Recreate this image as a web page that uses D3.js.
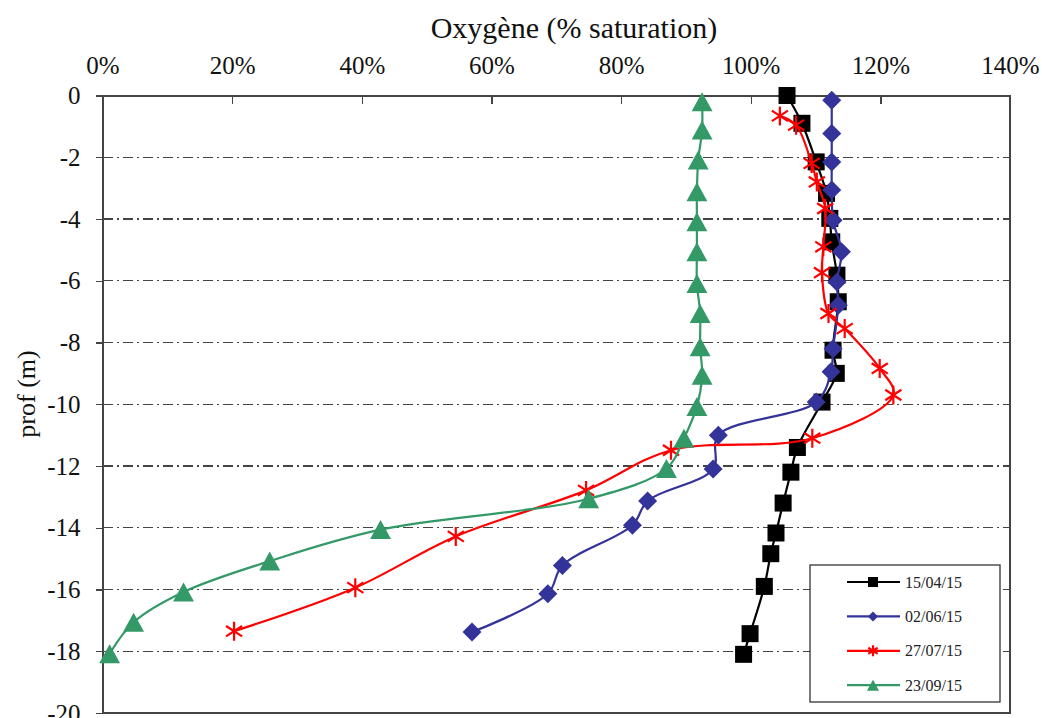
<!DOCTYPE html>
<meta charset="utf-8">
<head>
<style>
body { margin: 0; background: #fff; }
svg { font-family: "Liberation Serif", "DejaVu Serif", serif; }
.axis path, .axis line { fill: none; stroke: #444; stroke-width: 1.3; shape-rendering: crispEdges; }
.axis text { font-size: 25px; fill: #111; font-family: "Liberation Serif", serif; }
.grid { stroke: #444; stroke-width: 1.3; stroke-dasharray: 10,4,2,4; shape-rendering: crispEdges; }
</style>
</head>
<body>
<script src="https://d3js.org/d3.v7.min.js"></script>
<script>

// tick labels
var xTicks = [0, 20, 40, 60, 80, 100, 120, 140];
var yTicks = [0, -2, -4, -6, -8, -10, -12, -14, -16, -18, -20];

// series names
var dates = ["15/04/15", "02/06/15", "27/07/15", "23/09/15"];

// 15/04/15
var depth1 = [0, -0.9, -2.15, -3.17, -3.98, -4.74, -5.82, -6.68, -8.25, -9.0, -9.93, -11.4, -12.2, -13.2, -14.17, -14.84, -15.9, -17.43, -18.1];
var oxy1 = [105.6, 107.9, 110.1, 111.7, 112.2, 112.5, 113.3, 113.5, 112.7, 113.2, 111.0, 107.2, 106.2, 105.0, 103.9, 103.1, 102.1, 99.9, 98.9];

// 02/06/15
var depth2 = [-0.15, -1.23, -2.15, -3.06, -4.04, -5.06, -6.04, -6.79, -8.2, -8.95, -9.93, -11.0, -12.1, -13.13, -13.92, -15.22, -16.14, -17.38];
var oxy2 = [112.5, 112.5, 112.5, 112.5, 112.7, 114.0, 113.3, 113.5, 112.7, 112.4, 110.1, 95.0, 94.2, 84.1, 81.75, 70.95, 68.7, 57.0];

// 27/07/15
var depth3 = [-0.66, -0.96, -2.2, -2.8, -3.66, -4.9, -5.74, -7.06, -7.55, -8.84, -9.7, -11.1, -11.49, -12.79, -14.28, -15.94, -17.35];
var oxy3 = [104.5, 107.0, 109.4, 110.2, 111.5, 111.2, 111.0, 112.0, 114.5, 119.9, 122.0, 109.5, 87.7, 74.6, 54.5, 39.0, 20.3];

// 23/09/15
var depth4 = [-0.2, -1.12, -2.09, -3.12, -4.09, -5.06, -6.09, -7.06, -8.14, -9.06, -10.07, -11.1, -12.08, -13.06, -14.06, -15.08, -16.08, -17.06, -18.08];
var oxy4 = [92.5, 92.5, 91.9, 91.7, 91.7, 91.7, 91.7, 92.2, 92.2, 92.5, 91.7, 89.7, 87.0, 75.0, 42.9, 25.8, 12.5, 4.8, 1.1];

var colors = ["#000000", "#333399", "#ff0000", "#339966"];
var symbols = ["square", "diamond", "star", "triangle"];

var series = [
  {name: dates[0], depth: depth1, oxy: oxy1},
  {name: dates[1], depth: depth2, oxy: oxy2},
  {name: dates[2], depth: depth3, oxy: oxy3},
  {name: dates[3], depth: depth4, oxy: oxy4}
];

var width = 1042, height = 718;
var plotLeft = 102.5, plotRight = 1010, plotTop = 95.5, plotBottom = 713;

var svg = d3.select("body").append("svg")
    .attr("width", width)
    .attr("height", height);

var x = d3.scaleLinear().domain([0, 140]).range([plotLeft, plotRight]);
var y = d3.scaleLinear().domain([0, -20]).range([plotTop, plotBottom]);

// dash-dot grid
svg.append("g").selectAll("line")
    .data(yTicks.filter(function(d) { return d !== 0 && d !== -20; }))
    .enter().append("line")
    .attr("class", "grid")
    .attr("x1", plotLeft).attr("x2", plotRight)
    .attr("y1", function(d) { return y(d); })
    .attr("y2", function(d) { return y(d); });

// frame
svg.append("rect")
    .attr("x", plotLeft).attr("y", plotTop)
    .attr("width", plotRight - plotLeft).attr("height", plotBottom - plotTop)
    .attr("fill", "none")
    .attr("stroke", "#444")
    .attr("stroke-width", 1.3)
    .style("shape-rendering", "crispEdges");

var xAxis = d3.axisTop(x)
    .tickValues(xTicks)
    .tickSizeInner(-8)
    .tickSizeOuter(0)
    .tickPadding(22)
    .tickFormat(function(d) { return d + "%"; });

svg.append("g")
    .attr("class", "axis")
    .attr("transform", "translate(0," + plotTop + ")")
    .call(xAxis);

var yAxis = d3.axisLeft(y)
    .tickValues(yTicks)
    .tickSizeInner(7)
    .tickSizeOuter(0)
    .tickPadding(15)
    .tickFormat(function(d) { return String(d); });

svg.append("g")
    .attr("class", "axis")
    .attr("transform", "translate(" + plotLeft + ",0)")
    .call(yAxis);

// titles
svg.append("text")
    .attr("x", 574)
    .attr("y", 38)
    .attr("text-anchor", "middle")
    .style("font-size", "30px")
    .style("fill", "#111")
    .text("Oxygène (% saturation)");

svg.append("text")
    .attr("transform", "translate(35,394) rotate(-90)")
    .attr("text-anchor", "middle")
    .style("font-size", "26px")
    .style("fill", "#111")
    .text("prof (m)");

// marker shapes
function marker(sel, type, color, s) {
  if (type === "square") {
    sel.append("rect")
      .attr("x", -s).attr("y", -s)
      .attr("width", 2 * s).attr("height", 2 * s)
      .attr("fill", color);
  } else if (type === "diamond") {
    sel.append("path")
      .attr("d", "M0," + (-s) + "L" + s + ",0L0," + s + "L" + (-s) + ",0Z")
      .attr("fill", color);
  } else if (type === "triangle") {
    sel.append("path")
      .attr("d", "M0," + (-s) + "L" + (s * 1.1) + "," + s + "L" + (-s * 1.1) + "," + s + "Z")
      .attr("fill", color);
  } else {
    var a = s * 0.85, b = s * 0.55;
    sel.append("path")
      .attr("d", "M0," + (-s) + "L0," + s +
                 "M" + (-a) + "," + (-b) + "L" + a + "," + b +
                 "M" + (-a) + "," + b + "L" + a + "," + (-b))
      .attr("fill", "none")
      .attr("stroke", color)
      .attr("stroke-width", 2.2);
  }
}

var line = d3.line()
    .x(function(d) { return x(d[1]); })
    .y(function(d) { return y(d[0]); })
    .curve(d3.curveCatmullRom.alpha(0.5));

var markerSize = [8.5, 9.5, 9.5, 9.5];

series.forEach(function(s, i) {
  var pts = s.depth.map(function(d, j) { return [d, s.oxy[j]]; });
  var g = svg.append("g");
  g.append("path")
      .datum(pts)
      .attr("fill", "none")
      .attr("stroke", colors[i])
      .attr("stroke-width", 2.2)
      .attr("d", line);
  g.selectAll(".pt")
      .data(pts)
      .enter().append("g")
      .attr("class", "pt")
      .attr("transform", function(d) { return "translate(" + x(d[1]) + "," + y(d[0]) + ")"; })
      .each(function() { marker(d3.select(this), symbols[i], colors[i], markerSize[i]); });
});

// legend
var legend = svg.append("g");
legend.append("rect")
    .attr("x", 810).attr("y", 565)
    .attr("width", 190).attr("height", 137)
    .attr("fill", "#fff")
    .attr("stroke", "#333")
    .attr("stroke-width", 1.3);

var rows = legend.selectAll(".legend")
    .data(dates)
    .enter().append("g")
    .attr("class", "legend")
    .attr("transform", function(d, i) { return "translate(0," + (582 + i * 34.4) + ")"; });

rows.append("line")
    .attr("x1", 847).attr("x2", 900)
    .attr("stroke", function(d, i) { return colors[i]; })
    .attr("stroke-width", 2.2);

rows.append("g")
    .attr("transform", "translate(873,0)")
    .each(function(d, i) { marker(d3.select(this), symbols[i], colors[i], [5, 5, 5.5, 5.5][i]); });

rows.append("text")
    .attr("x", 905)
    .attr("dy", "0.35em")
    .style("font-size", "16px")
    .style("fill", "#222")
    .text(function(d) { return d; });

</script>
</body>
